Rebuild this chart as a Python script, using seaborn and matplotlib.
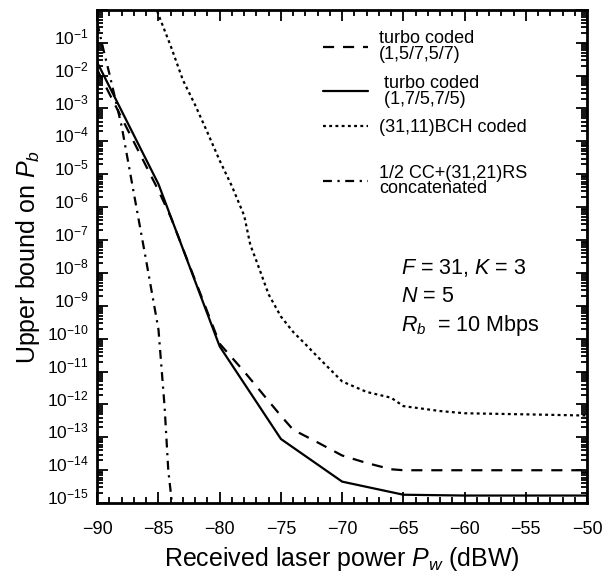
import numpy as np
import pandas as pd
import matplotlib
matplotlib.use("Agg")
import matplotlib.pyplot as plt
import matplotlib.transforms as mtransforms
from matplotlib.ticker import LogLocator, FuncFormatter, MultipleLocator, NullFormatter
import seaborn as sns

# ---- data ----
x_turbo_57 = [-90, -85, -84, -80, -78, -76, -75, -74, -72, -70, -68, -66, -65, -60, -55, -50]
pb_turbo_57 = [1.5e-2, 3.2e-6, 5.0e-7, 7.0e-11, 1.0e-11, 1.26e-12, 4.5e-13, 1.7e-13,
               7.0e-14, 2.8e-14, 1.66e-14, 1.07e-14, 1.0e-14, 1.0e-14, 1.0e-14, 1.0e-14]

x_turbo_75 = [-90, -85, -80, -75, -70, -65, -60, -55, -50]
pb_turbo_75 = [2.5e-2, 5.0e-6, 5.8e-11, 8.9e-14, 4.5e-15, 1.8e-15, 1.7e-15, 1.7e-15, 1.7e-15]

x_bch = [-85.1, -85, -84, -83, -82, -81, -80, -79, -78, -77.5, -77, -76, -75, -74,
         -73, -72, -70, -68, -66, -65, -62, -60, -55, -50]
pb_bch = [0.9, 7.1e-1, 7.9e-2, 7.2e-3, 1.26e-3, 1.86e-4, 2.6e-5, 4.3e-6, 5.5e-7, 7.1e-8,
          2.3e-8, 2.2e-9, 4.7e-10, 1.6e-10, 6.8e-11, 2.8e-11, 5.0e-12, 2.4e-12, 1.6e-12,
          8.9e-13, 6.3e-13, 5.4e-13, 5.0e-13, 4.6e-13]

x_concat = [-90, -89.5, -89, -88, -87, -86, -85, -84.5, -84.2, -83.9]
pb_concat = [4.0e-1, 6.3e-2, 1.1e-2, 2.8e-4, 2.5e-6, 2.3e-8, 1.9e-10, 8.5e-13, 1.0e-14, 1.0e-15]

labels = ["turbo coded\n(1,5/7,5/7)", " turbo coded\n (1,7/5,7/5)",
          "(31,11)BCH coded", "1/2 CC+(31,21)RS\nconcatenated"]
x_ticks = [-90, -85, -80, -75, -70, -65, -60, -55, -50]

# ---- style ----
sns.set_style("ticks")
plt.rcParams['font.family'] = ['Liberation Sans', 'DejaVu Sans']
plt.rcParams['mathtext.fontset'] = 'custom'
plt.rcParams['mathtext.rm'] = 'Liberation Sans'
plt.rcParams['mathtext.it'] = 'Liberation Sans:italic'
plt.rcParams['mathtext.bf'] = 'Liberation Sans:bold'
plt.rcParams['text.color'] = 'black'
plt.rcParams['axes.labelcolor'] = 'black'
plt.rcParams['xtick.color'] = 'black'
plt.rcParams['ytick.color'] = 'black'

fig, ax = plt.subplots(figsize=(6.04, 5.75), dpi=100)
fig.subplots_adjust(left=0.161, right=0.972, bottom=0.125, top=0.983)

lw = 1.6
sns.lineplot(x=x_turbo_57, y=pb_turbo_57, ax=ax, color='black', lw=lw,
             linestyle=(0, (5, 4)), label=labels[0])
sns.lineplot(x=x_turbo_75, y=pb_turbo_75, ax=ax, color='black', lw=lw,
             linestyle='-', label=labels[1])
sns.lineplot(x=x_bch, y=pb_bch, ax=ax, color='black', lw=lw,
             linestyle=(0, (1.3, 1.5)), label=labels[2])
sns.lineplot(x=x_concat, y=pb_concat, ax=ax, color='black', lw=lw,
             linestyle=(0, (4, 2.5, 1, 2.5)), label=labels[3])

ax.set_yscale('log')
ax.set_xlim(-90, -50)
ax.set_ylim(1e-15, 1)

ax.set_xticks(x_ticks)
ax.xaxis.set_minor_locator(MultipleLocator(1))
ax.yaxis.set_major_locator(LogLocator(base=10, numticks=30))
ax.yaxis.set_minor_locator(LogLocator(base=10, subs=np.arange(2, 10), numticks=30))
ax.yaxis.set_minor_formatter(NullFormatter())
ax.yaxis.set_major_formatter(FuncFormatter(
    lambda v, _: '' if v >= 0.5 else r'$\mathregular{10^{%d}}$' % int(round(np.log10(v)))))

ax.tick_params(which='both', direction='in', top=True, right=True, width=1.3, colors='black')
ax.tick_params(which='major', length=8)
ax.tick_params(which='minor', length=4)
ax.tick_params(axis='x', which='major', labelsize=13, pad=13)
ax.tick_params(axis='y', which='major', labelsize=12.5, pad=6)
for s in ax.spines.values():
    s.set_linewidth(2)
    s.set_color('black')

# y tick labels sit slightly above their ticks in the reference
shift = mtransforms.ScaledTranslation(0, 5 / 72, fig.dpi_scale_trans)
for lab in ax.get_yticklabels():
    lab.set_transform(lab.get_transform() + shift)

ax.set_xlabel(r'Received laser power $P_w$ (dBW)', fontsize=18, labelpad=5)
ax.set_ylabel(r'Upper bound on $P_b$', fontsize=18, labelpad=4)

# legend: first three entries, then concatenated entry on its own
handles, labs = ax.get_legend_handles_labels()
leg1 = ax.legend(handles[:3], labs[:3], loc='upper left', bbox_to_anchor=(0.461, 0.958),
                 frameon=False, fontsize=13, handlelength=2.5, handletextpad=0.6,
                 labelspacing=0.65, borderpad=0, borderaxespad=0)
for t in leg1.get_texts():
    t.set_linespacing(0.9)
ax.add_artist(leg1)
leg2 = ax.legend(handles[3:], labs[3:], loc='upper left', bbox_to_anchor=(0.461, 0.686),
                 frameon=False, fontsize=13, handlelength=2.5, handletextpad=0.6,
                 borderpad=0, borderaxespad=0)
for t in leg2.get_texts():
    t.set_linespacing(0.9)

ax.text(0.620, 0.477, r'$F$ = 31, $K$ = 3', transform=ax.transAxes, fontsize=15.5, va='center')
ax.text(0.620, 0.418, r'$N$ = 5', transform=ax.transAxes, fontsize=15.5, va='center')
ax.text(0.620, 0.361, r'$R_b$  = 10 Mbps', transform=ax.transAxes, fontsize=15.5, va='center')

plt.savefig('out.png', dpi=100)
plt.close()
